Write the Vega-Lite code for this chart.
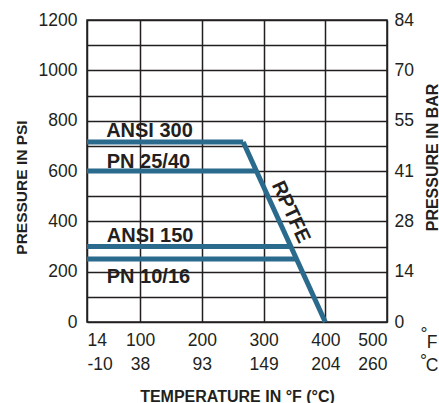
{
  "$schema": "https://vega.github.io/schema/vega-lite/v6.json",
  "width": 300,
  "height": 302,
  "autosize": "none",
  "padding": {"left": 87, "top": 20, "right": 52, "bottom": 81},
  "background": "white",
  "config": {
    "view": {"stroke": "#231f20", "strokeWidth": 1.5},
    "font": "Liberation Sans",
    "axis": {"labelFont": "Liberation Sans", "titleFont": "Liberation Sans", "labelColor": "#231f20", "titleColor": "#231f20"}
  },
  "datasets": {
    "lines": [
      {"series": "ANSI 300", "temp": 14, "psi": 715},
      {"series": "ANSI 300", "temp": 267, "psi": 715},
      {"series": "RPTFE", "temp": 267, "psi": 715},
      {"series": "RPTFE", "temp": 400, "psi": 0},
      {"series": "PN 25/40", "temp": 14, "psi": 600},
      {"series": "PN 25/40", "temp": 288, "psi": 600},
      {"series": "ANSI 150", "temp": 14, "psi": 300},
      {"series": "ANSI 150", "temp": 344, "psi": 300},
      {"series": "PN 10/16", "temp": 14, "psi": 250},
      {"series": "PN 10/16", "temp": 353, "psi": 250}
    ],
    "labels": [
      {"label": "ANSI 300", "temp": 45, "psi": 735},
      {"label": "PN 25/40", "temp": 46, "psi": 612},
      {"label": "ANSI 150", "temp": 46, "psi": 319},
      {"label": "PN 10/16", "temp": 46, "psi": 156}
    ],
    "curve": [
      {"label": "RPTFE", "temp": 344, "psi": 437}
    ],
    "units": [
      {"t": "F", "temp": 573, "psi": -83},
      {"t": "C", "temp": 573, "psi": -175},
      {"t": "°", "temp": 560, "psi": -52},
      {"t": "°", "temp": 559, "psi": -158}
    ]
  },
  "layer": [
    {
      "data": {"name": "lines"},
      "mark": {"type": "line", "color": "#2a6a8c", "strokeWidth": 5, "strokeCap": "butt", "strokeJoin": "miter"},
      "encoding": {
        "x": {
          "field": "temp", "type": "quantitative",
          "scale": {"domain": [14, 500], "nice": false, "zero": false},
          "axis": {
            "values": [14, 100, 200, 300, 400, 500],
            "grid": true, "gridColor": "#231f20", "gridWidth": 1.5, "gridOpacity": 1,
            "ticks": false, "domain": false, "format": "d",
            "labelExpr": "[datum.label, datum.value==14?'-10':datum.value==100?'38':datum.value==200?'93':datum.value==300?'149':datum.value==400?'204':'260']",
            "labelFontSize": 17.5, "labelLineHeight": 24, "labelPadding": 9, "labelBaseline": "top",
            "title": "TEMPERATURE IN °F (°C)", "titleFontSize": 16, "titleFontWeight": "bold",
            "titleY": 74, "titleBaseline": "middle"
          }
        },
        "y": {
          "field": "psi", "type": "quantitative",
          "scale": {"domain": [0, 1200], "nice": false},
          "axis": {
            "values": [0, 100, 200, 300, 400, 500, 600, 700, 800, 900, 1000, 1100, 1200],
            "grid": true, "gridColor": "#231f20", "gridWidth": 1.5, "gridOpacity": 1,
            "ticks": false, "domain": false, "format": "d",
            "labelExpr": "datum.value % 200 == 0 ? datum.label : ''",
            "labelFontSize": 17.5, "labelPadding": 10,
            "title": "PRESSURE IN PSI", "titleFontSize": 15.5, "titleFontWeight": "bold",
            "titleAngle": 270, "titleX": -66, "titleY": 167, "titleBaseline": "middle", "titleAlign": "center"
          }
        },
        "detail": {"field": "series"}
      }
    },
    {
      "data": {"name": "labels"},
      "mark": {"type": "text", "align": "left", "baseline": "alphabetic", "fontSize": 20, "fontWeight": "bold", "color": "#231f20"},
      "encoding": {
        "x": {"field": "temp", "type": "quantitative", "scale": {"domain": [14, 500], "nice": false, "zero": false}},
        "y": {
          "field": "psi", "type": "quantitative",
          "scale": {"domain": [0, 1200], "nice": false},
          "axis": {
            "orient": "right",
            "values": [0, 200, 400, 600, 800, 1000, 1200],
            "grid": false, "ticks": false, "domain": false,
            "labelExpr": "datum.value==0?'0':datum.value==200?'14':datum.value==400?'28':datum.value==600?'41':datum.value==800?'55':datum.value==1000?'70':'84'",
            "labelFontSize": 17.5, "labelPadding": 7,
            "title": "PRESSURE IN BAR", "titleFontSize": 16, "titleFontWeight": "bold",
            "titleAngle": 270, "titleX": 45, "titleY": 137, "titleBaseline": "middle", "titleAlign": "center"
          }
        },
        "text": {"field": "label"}
      }
    },
    {
      "data": {"name": "curve"},
      "mark": {"type": "text", "align": "center", "baseline": "middle", "angle": 65, "fontSize": 20, "fontWeight": "bold", "color": "#231f20"},
      "encoding": {
        "x": {"field": "temp", "type": "quantitative", "scale": {"domain": [14, 500], "nice": false, "zero": false}},
        "y": {"field": "psi", "type": "quantitative", "scale": {"domain": [0, 1200], "nice": false}, "axis": null},
        "text": {"field": "label"}
      }
    },
    {
      "data": {"name": "units"},
      "mark": {"type": "text", "align": "center", "baseline": "middle", "fontSize": 17.5, "color": "#231f20"},
      "encoding": {
        "x": {"field": "temp", "type": "quantitative", "scale": {"domain": [14, 500], "nice": false, "zero": false}},
        "y": {"field": "psi", "type": "quantitative", "scale": {"domain": [0, 1200], "nice": false}, "axis": null},
        "text": {"field": "t"}
      }
    }
  ],
  "resolve": {"scale": {"y": "independent"}, "axis": {"y": "independent"}}
}
